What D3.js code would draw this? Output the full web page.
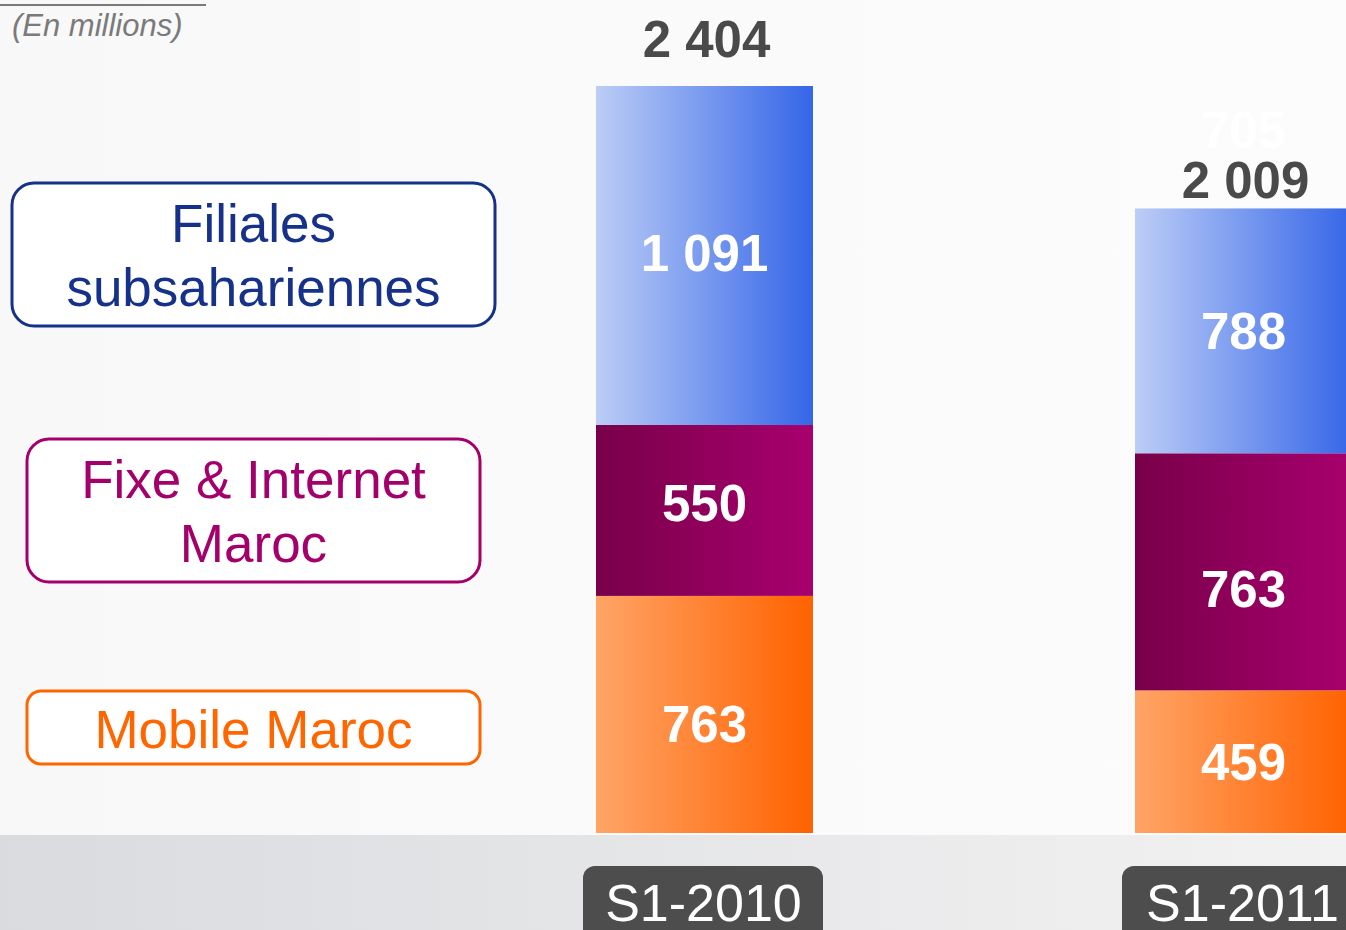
<!DOCTYPE html>
<html>
<head>
<meta charset="utf-8">
<script src="https://cdn.jsdelivr.net/npm/d3@7"></script>
<style>
  body { margin: 0; overflow: hidden; background: #fafafa; }
  svg { display: block; font-family: "Liberation Sans", Arial, sans-serif; }
</style>
</head>
<body>
<div id="chart"></div>
<script>
// values in millions
var periods = ["S1-2010", "S1-2011"];
var segments = ["Mobile Maroc", "Fixe & Internet Maroc", "Filiales subsahariennes"];
var mobile = [763, 459];
var fixe = [550, 763];
var filiales = [1091, 788];
var totals = ["2 404", "2 009"];
var segLabels = [["763", "459"], ["550", "763"], ["1 091", "788"]];

var width = 1346, height = 930;
var baseline = 833;
// small vertical nudges of the labels, as placed on the slide
var labelNudge = [[10, 0], [-7, 17], [-3, 0]];
var totalNudge = [0, 19];

var svg = d3.select("#chart").append("svg")
    .attr("width", width)
    .attr("height", height);

var defs = svg.append("defs");
function hgrad(id, c0, c1) {
    var g = defs.append("linearGradient").attr("id", id)
        .attr("x1", "0%").attr("x2", "100%").attr("y1", "0%").attr("y2", "0%");
    g.append("stop").attr("offset", "0%").attr("stop-color", c0);
    g.append("stop").attr("offset", "100%").attr("stop-color", c1);
}
hgrad("gMobile", "#ffa466", "#ff6200");
hgrad("gFixe", "#780049", "#a8006e");
hgrad("gFil", "#bccdf6", "#3566e8");
hgrad("gBand", "#dadbdf", "#f2f2f2");
hgrad("gBg", "#f8f8f8", "#fcfcfc");

// background
svg.append("rect").attr("width", width).attr("height", height).attr("fill", "url(#gBg)");
svg.append("rect").attr("x", 0).attr("y", baseline + 2).attr("width", width)
    .attr("height", height - baseline - 2).attr("fill", "url(#gBand)");

// unit note
svg.append("line").attr("x1", 0).attr("x2", 206).attr("y1", 5).attr("y2", 5)
    .attr("stroke", "#7a7a7a").attr("stroke-width", 2);
svg.append("text").attr("x", 12).attr("y", 36)
    .attr("font-size", 31).attr("font-style", "italic").attr("fill", "#7a7a7a")
    .text("(En millions)");

// scales
var x = d3.scaleBand().domain(periods).range([596, 1352]).paddingInner(0.5974).paddingOuter(0);
var y = d3.scaleLinear().domain([0, 2404]).range([baseline, 86]);

var data = periods.map(function (p, i) {
    return { period: p, values: [mobile[i], fixe[i], filiales[i]] };
});
var stack = d3.stack().keys([0, 1, 2]).value(function (d, k) { return d.values[k]; });
var series = stack(data);
var fills = ["url(#gMobile)", "url(#gFixe)", "url(#gFil)"];

series.forEach(function (s, k) {
    svg.selectAll(".seg" + k)
        .data(s)
        .enter()
        .append("rect")
        .attr("x", function (d) { return x(d.data.period); })
        .attr("y", function (d) { return y(d[1]); })
        .attr("width", x.bandwidth())
        .attr("height", function (d) { return y(d[0]) - y(d[1]); })
        .attr("fill", fills[k]);

    svg.selectAll(".lab" + k)
        .data(s)
        .enter()
        .append("text")
        .attr("x", function (d) { return x(d.data.period) + x.bandwidth() / 2; })
        .attr("y", function (d, i) { return (y(d[0]) + y(d[1])) / 2 + 18 + labelNudge[k][i]; })
        .attr("text-anchor", "middle")
        .attr("font-size", 51)
        .attr("font-weight", "bold")
        .attr("fill", "#fff")
        .text(function (d, i) { return segLabels[k][i]; });
});

// leftover white label above the second bar
svg.append("text")
    .attr("x", x("S1-2011") + x.bandwidth() / 2)
    .attr("y", 148)
    .attr("text-anchor", "middle")
    .attr("font-size", 51)
    .attr("font-weight", "bold")
    .attr("fill", "#ffffff")
    .text("705");

// totals
var topSeries = series[2];
svg.selectAll(".total")
    .data(topSeries)
    .enter()
    .append("text")
    .attr("x", function (d) { return x(d.data.period) + x.bandwidth() / 2 + 2; })
    .attr("y", function (d, i) { return y(d[1]) - 29 + totalNudge[i]; })
    .attr("text-anchor", "middle")
    .attr("font-size", 51)
    .attr("font-weight", "bold")
    .attr("fill", "#4a4a4a")
    .text(function (d, i) { return totals[i]; });

// category tags
var tags = svg.selectAll(".tag")
    .data(periods)
    .enter()
    .append("g");
tags.append("rect")
    .attr("x", function (d) { return x(d) - 13; })
    .attr("y", 866)
    .attr("width", 240)
    .attr("height", 90)
    .attr("rx", 12)
    .attr("fill", "#4d4d4d");
tags.append("text")
    .attr("x", function (d) { return x(d) + x.bandwidth() / 2 - 1; })
    .attr("y", 921)
    .attr("text-anchor", "middle")
    .attr("font-size", 52)
    .attr("fill", "#fff")
    .text(function (d) { return d; });

// legend boxes
var legend = [
    { lines: ["Filiales", "subsahariennes"], color: "#15318a", x: 12, y: 183, w: 483, h: 143, base: [242, 306] },
    { lines: ["Fixe & Internet", "Maroc"], color: "#a3006b", x: 27, y: 439, w: 453, h: 143, base: [498, 562] },
    { lines: ["Mobile Maroc"], color: "#ff6600", x: 27, y: 691, w: 453, h: 73, base: [748] }
];
legend.forEach(function (l) {
    svg.append("rect")
        .attr("x", l.x).attr("y", l.y).attr("width", l.w).attr("height", l.h)
        .attr("rx", l.h > 100 ? 22 : 14)
        .attr("fill", "#fff").attr("stroke", l.color).attr("stroke-width", 3);
    l.lines.forEach(function (t, i) {
        svg.append("text")
            .attr("x", l.x + l.w / 2)
            .attr("y", l.base[i])
            .attr("text-anchor", "middle")
            .attr("font-size", 53)
            .attr("fill", l.color)
            .text(t);
    });
});
</script>
</body>
</html>
